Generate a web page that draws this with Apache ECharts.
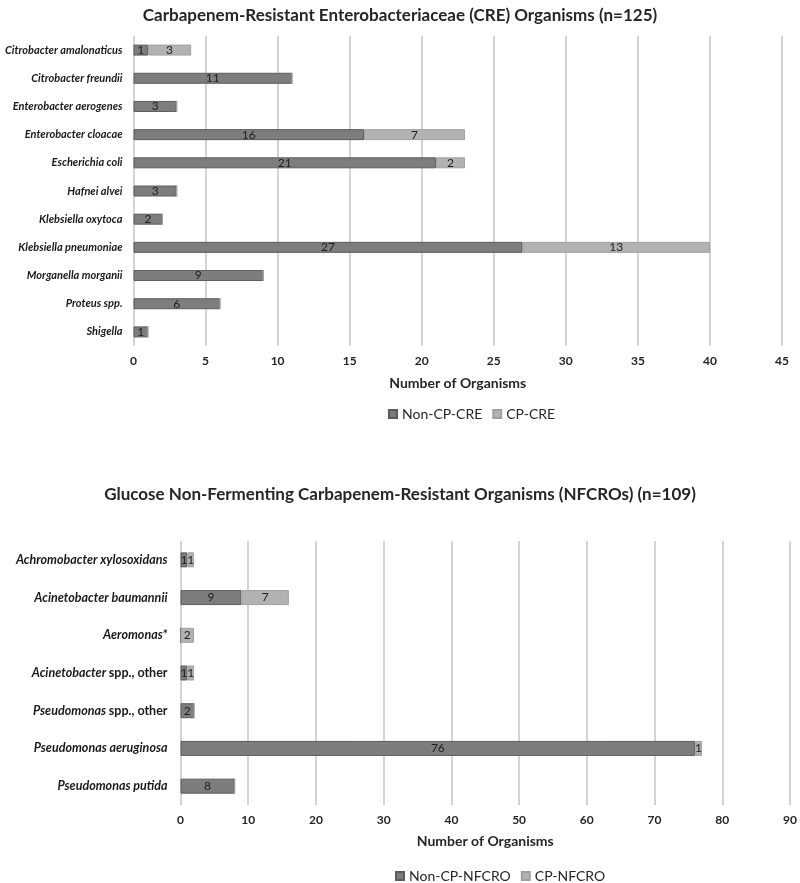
<!DOCTYPE html>
<html><head><meta charset="utf-8">
<script src="https://cdn.jsdelivr.net/npm/echarts@6/dist/echarts.min.js"></script>
<style>html,body{margin:0;padding:0;background:#fff}#c{width:800px;height:883px}</style>
</head><body><div id="c"></div>
<script>
const creCategories = ['Citrobacter amalonaticus','Citrobacter freundii','Enterobacter aerogenes','Enterobacter cloacae','Escherichia coli','Hafnei alvei','Klebsiella oxytoca','Klebsiella pneumoniae','Morganella morganii','Proteus spp.','Shigella'];
const creNonCP = [1,11,3,16,21,3,2,27,9,6,1];
const creCP    = [3,0,0,7,2,0,0,13,0,0,0];
const creTicks = [0,5,10,15,20,25,30,35,40,45];

const nfCategories = ['Achromobacter xylosoxidans','Acinetobacter baumannii','Aeromonas*','Acinetobacter|spp., other','Pseudomonas|spp., other','Pseudomonas aeruginosa','Pseudomonas putida'];
const nfNonCP = [1,9,0,1,2,76,8];
const nfCP    = [1,7,2,1,0,1,0];
const nfTicks = [0,10,20,30,40,50,60,70,80,90];

const FONT = 'Lato';
const DARK = '#7d7d7d', DARKB = '#5c5c5c', LIGHT = '#b2b2b2', LIGHTB = '#a0a0a0';
const GRIDC = '#c6c6c6';

function lab(v){ return v.value > 0 ? String(v.value) : ''; }
const barLabel = {show:true, position:'inside', formatter:lab, color:'#1e1e1e', fontFamily:FONT, fontSize:12};

function catLabel(size){
  return {
    fontFamily:FONT, fontSize:size, fontWeight:'bold', fontStyle:'italic', color:'#1a1a1a',
    formatter: function(v){
      if (v.indexOf('|')>=0){ const p=v.split('|'); return '{i|'+p[0]+'} {n|'+p[1]+'}'; }
      return '{i|'+v+'}';
    },
    rich:{
      i:{fontFamily:FONT, fontSize:size, fontWeight:'bold', fontStyle:'italic', color:'#1a1a1a'},
      n:{fontFamily:FONT, fontSize:size, fontWeight:'bold', fontStyle:'normal', color:'#1a1a1a'}
    }
  };
}

const chart = echarts.init(document.getElementById('c'), null, {renderer:'canvas'});
chart.setOption({
  animation:false,
  backgroundColor:'#fff',
  title:[
    {text:'Carbapenem-Resistant Enterobacteriaceae (CRE) Organisms (n=125)', left:'center', top:2,
     textStyle:{fontFamily:FONT, fontSize:17, fontWeight:'bold', color:'#262626'}},
    {text:'Glucose Non-Fermenting Carbapenem-Resistant Organisms (NFCROs) (n=109)', left:'center', top:481,
     textStyle:{fontFamily:FONT, fontSize:17, fontWeight:'bold', color:'#262626'}}
  ],
  legend:[
    {data:['Non-CP-CRE','CP-CRE'], left:383, top:402, itemWidth:8, itemHeight:8, itemGap:10, icon:'rect',
     textStyle:{fontFamily:FONT, fontSize:14, color:'#262626'}},
    {data:['Non-CP-NFCRO','CP-NFCRO'], left:390, top:864, itemWidth:8, itemHeight:8, itemGap:10, icon:'rect',
     textStyle:{fontFamily:FONT, fontSize:14, color:'#262626'}}
  ],
  grid:[
    {left:133.5, right:18, top:36, height:310, outerBoundsMode:'none', containLabel:false},
    {left:180.5, right:10, top:541, height:264, outerBoundsMode:'none', containLabel:false}
  ],
  xAxis:[
    {gridIndex:0, type:'value', min:0, max:45, interval:5,
     name:'Number of Organisms', nameLocation:'middle', nameGap:30,
     nameTextStyle:{fontFamily:FONT, fontSize:14, fontWeight:'bold', color:'#262626'},
     axisLine:{show:false}, axisTick:{show:false},
     axisLabel:{margin:9, fontFamily:FONT, fontSize:12, fontWeight:'bold', color:'#262626',
       formatter:function(v){ return creTicks.indexOf(v)>=0 ? String(v) : ''; }},
     splitLine:{show:true, lineStyle:{color:GRIDC, width:1.5}}},
    {gridIndex:1, type:'value', min:0, max:90, interval:10,
     name:'Number of Organisms', nameLocation:'middle', nameGap:29,
     nameTextStyle:{fontFamily:FONT, fontSize:14, fontWeight:'bold', color:'#262626'},
     axisLine:{show:false}, axisTick:{show:false},
     axisLabel:{margin:9, fontFamily:FONT, fontSize:12, fontWeight:'bold', color:'#262626',
       formatter:function(v){ return nfTicks.indexOf(v)>=0 ? String(v) : ''; }},
     splitLine:{show:true, lineStyle:{color:GRIDC, width:1.5}}}
  ],
  yAxis:[
    {gridIndex:0, type:'category', data:creCategories, inverse:true,
     axisLine:{show:false}, axisTick:{show:false}, axisLabel:Object.assign({margin:11}, catLabel(11))},
    {gridIndex:1, type:'category', data:nfCategories, inverse:true,
     axisLine:{show:false}, axisTick:{show:false}, axisLabel:Object.assign({margin:13}, catLabel(12.5))}
  ],
  series:[
    {name:'Non-CP-CRE', type:'bar', stack:'a', xAxisIndex:0, yAxisIndex:0, barWidth:11, data:creNonCP,
     itemStyle:{color:DARK, borderColor:DARKB, borderWidth:1}, label:barLabel},
    {name:'CP-CRE', type:'bar', stack:'a', xAxisIndex:0, yAxisIndex:0, barWidth:11, data:creCP,
     itemStyle:{color:LIGHT, borderColor:LIGHTB, borderWidth:1}, label:barLabel},
    {name:'Non-CP-NFCRO', type:'bar', stack:'b', xAxisIndex:1, yAxisIndex:1, barWidth:15, data:nfNonCP,
     itemStyle:{color:DARK, borderColor:DARKB, borderWidth:1}, label:barLabel},
    {name:'CP-NFCRO', type:'bar', stack:'b', xAxisIndex:1, yAxisIndex:1, barWidth:15, data:nfCP,
     itemStyle:{color:LIGHT, borderColor:LIGHTB, borderWidth:1}, label:barLabel}
  ]
});
</script></body></html>
